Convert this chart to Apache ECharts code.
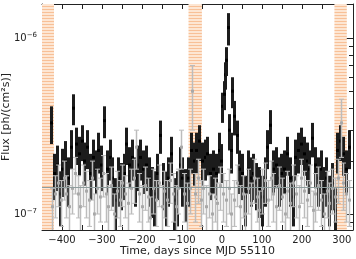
<!DOCTYPE html>
<html>
<head>
<meta charset="utf-8">
<script src="https://cdn.jsdelivr.net/npm/echarts@6/dist/echarts.min.js"></script>
<style>
  html, body { margin: 0; padding: 0; background: #fff; }
  #lcChart { width: 356px; height: 259px; }
</style>
</head>
<body>
<div id="lcChart"></div>
<script>
// flux in units of 1e-7 ph/(cm2 s), time in days since MJD 55110
var blackT = [-427, -420, -413, -406, -399, -392, -385, -378, -372, -365, -358, -351, -344, -337, -330, -323, -316, -309, -302, -295,
  -288, -281, -274, -267, -260, -253, -246, -239, -232, -225, -218, -211, -204, -197, -190, -183, -176, -169, -162, -155,
  -148, -141, -134, -127, -120, -113, -106, -99, -92, -85, -78, -71, -64, -57, -50, -43, -36, -29, -22, -15,
  -8, -3, 1, 5, 8, 11, 15, 18, 22, 26, 30, 37, 44, 51, 58, 65, 72, 79, 86, 93,
  100, 107, 114, 121, 128, 135, 142, 149, 156, 163, 170, 177, 184, 191, 198, 205, 212, 219, 226, 233,
  240, 247, 254, 261, 268, 275, 282, 289, 296, 303, 310, 317]
var blackFlux = [3.3, 1.7, 1.9, 1.3, 1.8, 2.0, 1.6, 2.4, 4.0, 2.5, 2.2, 2.6, 2.0, 2.4, 1.7, 2.1, 1.8, 2.3, 1.9, 3.4,
  1.8, 2.1, 1.6, 1.2, 1.6, 1.5, 1.7, 2.5, 1.9, 2.1, 1.6, 1.9, 2.1, 1.8, 1.9, 1.6, 1.4, 1.3, 1.7, 2.8,
  1.5, 1.3, 1.6, 2.2, 1.2, 1.3, 1.9, 1.6, 1.35, 1.6, 2.3, 2.0, 2.3, 2.6, 2.0, 2.1, 2.2, 1.7, 1.8, 1.7,
  2.3, 2.0, 4.1, 4.8, 6.2, 7.5, 11.5, 3.0, 2.3, 5.0, 3.6, 2.8, 1.8, 1.7, 1.25, 1.8, 1.6, 1.7, 1.5, 1.4,
  1.25, 1.6, 2.4, 3.2, 1.8, 1.9, 1.6, 1.7, 1.8, 2.2, 1.6, 1.25, 2.1, 2.3, 2.5, 2.2, 2.0, 1.8, 2.7, 1.9,
  1.6, 1.8, 1.4, 1.6, 1.25, 1.5, 1.05, 2.3, 2.6, 2.2, 1.8, 2.4]
var blackErr = [0.8, 0.5, 0.55, 0.45, 0.55, 0.6, 0.5, 0.6, 0.8, 0.6, 0.55, 0.6, 0.55, 0.6, 0.5, 0.55, 0.5, 0.6, 0.55, 0.7,
  0.5, 0.55, 0.5, 0.4, 0.5, 0.45, 0.5, 0.6, 0.5, 0.55, 0.5, 0.55, 0.55, 0.5, 0.55, 0.5, 0.45, 0.45, 0.5, 0.6,
  0.45, 0.45, 0.5, 0.55, 0.4, 0.45, 0.5, 0.5, 0.45, 0.5, 0.6, 0.55, 0.6, 0.6, 0.55, 0.55, 0.55, 0.5, 0.5, 0.5,
  0.6, 0.5, 0.8, 0.9, 1.1, 1.4, 2.4, 0.7, 0.6, 1.0, 0.8, 0.6, 0.5, 0.5, 0.4, 0.5, 0.5, 0.5, 0.45, 0.45,
  0.4, 0.5, 0.6, 0.7, 0.5, 0.5, 0.5, 0.5, 0.5, 0.55, 0.5, 0.4, 0.55, 0.6, 0.6, 0.55, 0.55, 0.5, 0.6, 0.5,
  0.5, 0.5, 0.45, 0.5, 0.4, 0.45, 0.35, 0.6, 0.6, 0.55, 0.5, 0.6]

var grayT = [-424, -417, -410, -403, -396, -389, -382, -375, -368, -361, -354, -347, -340, -333, -326, -319, -312, -305, -298, -291,
  -284, -277, -270, -263, -256, -249, -242, -235, -228, -221, -214, -207, -200, -193, -186, -179, -172, -165, -158, -151,
  -144, -137, -130, -123, -116, -109, -102, -95, -88, -81, -74, -67, -60, -53, -46, -39, -32, -25, -18, -11,
  -4, 3, 10, 17, 24, 31, 38, 45, 52, 59, 66, 73, 80, 87, 94, 101, 108, 115, 122, 129,
  136, 143, 150, 157, 164, 171, 178, 185, 192, 199, 206, 213, 220, 227, 234, 241, 248, 255, 262, 269,
  276, 283, 290, 297, 304, 311, 318]
var grayFlux = [1.1, 1.3, 1.5, 1.2, 1.6, 1.3, 1.1, 1.4, 1.7, 1.3, 1.1, 1.5, 1.35, 1.2, 1.6, 1.0, 1.4, 1.25, 1.7, 1.3,
  1.1, 1.45, 1.0, 1.35, 1.2, 1.5, 1.3, 1.15, 1.4, 1.6, 2.4, 1.3, 1.1, 1.45, 1.25, 0.95, 1.4, 1.2, 1.5, 1.1,
  1.35, 1.2, 1.55, 1.3, 1.1, 1.4, 2.4, 1.3, 1.15, 1.4, 5.0, 1.3, 1.6, 1.2, 1.4, 1.1, 1.3, 1.0, 1.25, 1.15,
  1.45, 1.3, 1.2, 1.4, 1.0, 1.2, 1.5, 1.1, 1.3, 1.0, 1.4, 1.15, 1.6, 1.25, 1.05, 1.4, 1.55, 1.2, 1.6, 1.3,
  1.1, 1.45, 1.25, 1.0, 1.35, 1.15, 1.5, 1.3, 1.1, 1.6, 1.35, 1.2, 1.5, 1.05, 1.3, 1.45, 1.2, 1.0, 1.35, 1.15,
  1.4, 1.25, 1.6, 3.3, 1.5, 1.3, 1.2]
var grayErr = [0.3, 0.35, 0.4, 0.35, 0.4, 0.35, 0.35, 0.4, 0.4, 0.35, 0.35, 0.4, 0.4, 0.35, 0.4, 0.3, 0.4, 0.35, 0.45, 0.4,
  0.35, 0.4, 0.3, 0.4, 0.35, 0.4, 0.35, 0.35, 0.4, 0.45, 0.6, 0.4, 0.35, 0.4, 0.35, 0.3, 0.4, 0.35, 0.4, 0.35,
  0.4, 0.35, 0.4, 0.4, 0.35, 0.4, 0.6, 0.4, 0.35, 0.4, 2.0, 0.4, 0.45, 0.35, 0.4, 0.35, 0.35, 0.3, 0.35, 0.35,
  0.4, 0.4, 0.35, 0.4, 0.3, 0.35, 0.4, 0.35, 0.35, 0.3, 0.4, 0.35, 0.45, 0.35, 0.3, 0.4, 0.4, 0.35, 0.4, 0.4,
  0.35, 0.4, 0.35, 0.3, 0.4, 0.35, 0.4, 0.35, 0.35, 0.45, 0.4, 0.35, 0.4, 0.3, 0.4, 0.4, 0.35, 0.3, 0.4, 0.35,
  0.4, 0.35, 0.45, 1.2, 0.45, 0.4, 0.35]

// quiescent level and the hatched gaps
var baseLevel = 1.41
var gapStart = [-450, -83.5, 281.5]
var gapEnd = [-420, -50, 312.5]

var xTickLabels = [-400, -300, -200, -100, 0, 100, 200, 300]
var yTickLabels = [-7, -6]

function lg(v) {
  return Math.log10(v * 1e-7)
}

function buildRows(ts, fs, es) {
  var rows = []
  ts.forEach(function(t, i) {
    var lo = Math.max(fs[i] - es[i], 0.05)
    rows.push([t, lg(fs[i]), lg(lo), lg(fs[i] + es[i])])
  })
  return rows
}

function errorBar(color, width, cap, marker, markerColor) {
  return function(params, api) {
    var p = api.coord([api.value(0), api.value(1)])
    var lo = api.coord([api.value(0), api.value(2)])
    var hi = api.coord([api.value(0), api.value(3)])
    var x = Math.round(p[0]) + 0.5
    var kids = [{
      type: 'line',
      shape: { x1: x, y1: lo[1], x2: x, y2: hi[1] },
      style: { stroke: color, lineWidth: width }
    }]
    if (cap) {
      kids.push({ type: 'line', shape: { x1: x - cap, y1: lo[1], x2: x + cap, y2: lo[1] }, style: { stroke: color, lineWidth: 1 } })
      kids.push({ type: 'line', shape: { x1: x - cap, y1: hi[1], x2: x + cap, y2: hi[1] }, style: { stroke: color, lineWidth: 1 } })
    }
    kids.push({
      type: 'rect',
      shape: { x: x - marker / 2, y: p[1] - marker / 2, width: marker, height: marker },
      style: { fill: markerColor }
    })
    return { type: 'group', children: kids }
  }
}

// peach stripes for the gaps
var hatch = document.createElement('canvas')
hatch.width = 4
hatch.height = 3
var hctx = hatch.getContext('2d')
hctx.fillStyle = '#fde6d3'
hctx.fillRect(0, 0, 4, 3)
hctx.fillStyle = '#f8c097'
hctx.fillRect(0, 0, 4, 1)

var gapAreas = []
gapStart.forEach(function(s, i) {
  gapAreas.push([{ xAxis: s }, { xAxis: gapEnd[i] }])
})

var minorTicks = []
for (var k = 2; k <= 9; k++) minorTicks.push(lg(k))
minorTicks.push(lg(0.9))

var yMin = -7.091
var yMax = -5.805
var font = 'DejaVu Sans'

var yBase = { type: 'value', min: yMin, max: yMax, splitLine: { show: false } }

var option = {
  animation: false,
  grid: { left: 42, right: 3, top: 4, bottom: 29, outerBoundsMode: 'none', containLabel: false },
  xAxis: [
    {
      type: 'value', min: -450, max: 328, interval: 50,
      name: 'Time, days since MJD 55110', nameLocation: 'middle', nameGap: 16, nameMoveOverlap: false,
      nameTextStyle: { fontFamily: font, fontSize: 11, color: '#222' },
      axisLine: { onZero: false, lineStyle: { color: '#222' } },
      axisTick: { inside: true, length: 5, lineStyle: { color: '#222' } },
      axisLabel: {
        fontFamily: font, fontSize: 10, color: '#222', margin: 5,
        formatter: function(v) { return xTickLabels.indexOf(v) >= 0 ? String(v).replace('-', '\u2212') : '' }
      },
      splitLine: { show: false }
    },
    {
      type: 'value', position: 'top', min: -450, max: 328, interval: 50,
      axisLine: { onZero: false, lineStyle: { color: '#222' } },
      axisTick: { inside: true, length: 5, lineStyle: { color: '#222' } },
      axisLabel: { show: false },
      splitLine: { show: false }
    }
  ],
  yAxis: [
    Object.assign({}, yBase, {
      position: 'left',
      name: 'Flux [ph/(cm\u00b2s)]', nameLocation: 'middle', nameGap: 30, nameMoveOverlap: false,
      nameTextStyle: { fontFamily: font, fontSize: 11, color: '#222' },
      axisLine: { show: true, onZero: false, lineStyle: { color: '#222' } },
      axisTick: { inside: true, length: 7, customValues: yTickLabels, lineStyle: { color: '#222' } },
      axisLabel: {
        customValues: yTickLabels, margin: 5, fontFamily: font, fontSize: 10, color: '#222',
        formatter: function(v) { return '10{sup|\u2212' + Math.abs(Math.round(v)) + '}' },
        rich: { sup: { fontFamily: font, fontSize: 7, color: '#222', padding: [0, 0, 6, 0] } }
      }
    }),
    Object.assign({}, yBase, {
      position: 'left',
      axisLine: { show: false, onZero: false },
      axisTick: { inside: true, length: 4, customValues: minorTicks, lineStyle: { color: '#222' } },
      axisLabel: { show: false }
    }),
    Object.assign({}, yBase, {
      position: 'right',
      axisLine: { show: true, onZero: false, lineStyle: { color: '#222' } },
      axisTick: { inside: true, length: 7, customValues: yTickLabels, lineStyle: { color: '#222' } },
      axisLabel: { show: false }
    }),
    Object.assign({}, yBase, {
      position: 'right',
      axisLine: { show: false, onZero: false },
      axisTick: { inside: true, length: 4, customValues: minorTicks, lineStyle: { color: '#222' } },
      axisLabel: { show: false }
    })
  ],
  series: [
    {
      type: 'line', data: [], silent: true,
      markArea: {
        silent: true,
        itemStyle: { color: { image: hatch, repeat: 'repeat' } },
        data: gapAreas
      }
    },
    {
      name: 'black', type: 'custom', clip: true,
      renderItem: errorBar('#1c1c1c', 3, 0, 3, '#000'),
      encode: { x: 0, y: [1, 2, 3] },
      data: buildRows(blackT, blackFlux, blackErr),
      z: 3
    },
    {
      name: 'gray', type: 'custom', clip: true,
      renderItem: errorBar('#bcbcbc', 1.5, 2.5, 3, '#a8a8a8'),
      encode: { x: 0, y: [1, 2, 3] },
      data: buildRows(grayT, grayFlux, grayErr),
      markLine: {
        silent: true, symbol: 'none', label: { show: false },
        lineStyle: { color: '#8f9d9d', width: 1, type: 'solid' },
        data: [{ yAxis: lg(baseLevel) }]
      },
      z: 4
    }
  ]
}

var myChart = echarts.init(document.getElementById('lcChart'))
myChart.setOption(option)
</script>
</body>
</html>
